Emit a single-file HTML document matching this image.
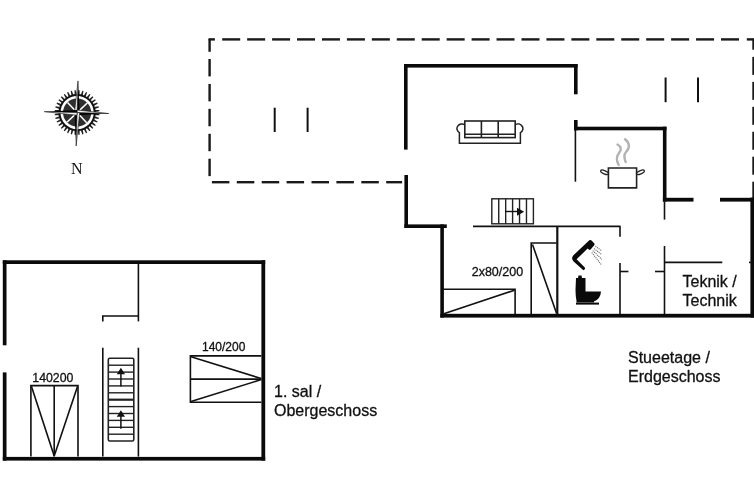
<!DOCTYPE html>
<html><head><meta charset="utf-8"><style>
html,body{margin:0;padding:0;background:#fff;width:754px;height:498px;overflow:hidden}
svg{display:block;will-change:transform;font-family:"Liberation Sans",sans-serif}
</style></head><body>
<svg width="754" height="498" viewBox="0 0 754 498"><rect x="208.6" y="38.2" width="6.3" height="2.4" fill="#1a1a1a"/>
<rect x="208.4" y="38.8" width="2.4" height="13" fill="#1a1a1a"/>
<rect x="222.2" y="38.199999999999996" width="18.0" height="2.4" fill="#1a1a1a"/>
<rect x="247.14" y="38.199999999999996" width="18.0" height="2.4" fill="#1a1a1a"/>
<rect x="272.08" y="38.199999999999996" width="18.0" height="2.4" fill="#1a1a1a"/>
<rect x="297.02" y="38.199999999999996" width="18.0" height="2.4" fill="#1a1a1a"/>
<rect x="321.96" y="38.199999999999996" width="18.0" height="2.4" fill="#1a1a1a"/>
<rect x="346.9" y="38.199999999999996" width="18.0" height="2.4" fill="#1a1a1a"/>
<rect x="371.84" y="38.199999999999996" width="18.0" height="2.4" fill="#1a1a1a"/>
<rect x="396.78" y="38.199999999999996" width="18.0" height="2.4" fill="#1a1a1a"/>
<rect x="421.72" y="38.199999999999996" width="18.0" height="2.4" fill="#1a1a1a"/>
<rect x="446.66" y="38.199999999999996" width="18.0" height="2.4" fill="#1a1a1a"/>
<rect x="471.6" y="38.199999999999996" width="18.0" height="2.4" fill="#1a1a1a"/>
<rect x="496.54" y="38.199999999999996" width="18.0" height="2.4" fill="#1a1a1a"/>
<rect x="521.48" y="38.199999999999996" width="18.0" height="2.4" fill="#1a1a1a"/>
<rect x="546.42" y="38.199999999999996" width="18.0" height="2.4" fill="#1a1a1a"/>
<rect x="571.36" y="38.199999999999996" width="18.0" height="2.4" fill="#1a1a1a"/>
<rect x="596.3" y="38.199999999999996" width="18.0" height="2.4" fill="#1a1a1a"/>
<rect x="621.24" y="38.199999999999996" width="18.0" height="2.4" fill="#1a1a1a"/>
<rect x="646.18" y="38.199999999999996" width="18.0" height="2.4" fill="#1a1a1a"/>
<rect x="671.12" y="38.199999999999996" width="18.0" height="2.4" fill="#1a1a1a"/>
<rect x="696.06" y="38.199999999999996" width="18.0" height="2.4" fill="#1a1a1a"/>
<rect x="721.0" y="38.199999999999996" width="18.0" height="2.4" fill="#1a1a1a"/>
<rect x="746.8" y="38.2" width="8" height="2.4" fill="#1a1a1a"/>
<rect x="752.3" y="38.8" width="2.4" height="10.9" fill="#1a1a1a"/>
<rect x="208.4" y="59" width="2.4" height="17.4" fill="#1a1a1a"/>
<rect x="208.4" y="83.93" width="2.4" height="17.4" fill="#1a1a1a"/>
<rect x="208.4" y="108.86" width="2.4" height="17.4" fill="#1a1a1a"/>
<rect x="208.4" y="133.79" width="2.4" height="17.4" fill="#1a1a1a"/>
<rect x="208.4" y="158.72" width="2.4" height="17.4" fill="#1a1a1a"/>
<rect x="211.9" y="181.0" width="17.5" height="2.4" fill="#1a1a1a"/>
<rect x="236.8" y="181.0" width="17.5" height="2.4" fill="#1a1a1a"/>
<rect x="261.7" y="181.0" width="17.5" height="2.4" fill="#1a1a1a"/>
<rect x="286.6" y="181.0" width="17.5" height="2.4" fill="#1a1a1a"/>
<rect x="311.5" y="181.0" width="17.5" height="2.4" fill="#1a1a1a"/>
<rect x="336.4" y="181.0" width="17.5" height="2.4" fill="#1a1a1a"/>
<rect x="361.3" y="181.0" width="17.5" height="2.4" fill="#1a1a1a"/>
<rect x="386.2" y="181.0" width="15.9" height="2.4" fill="#1a1a1a"/>
<rect x="752.3" y="56.9" width="2.4" height="18.0" fill="#1a1a1a"/>
<rect x="752.3" y="81.85" width="2.4" height="18.0" fill="#1a1a1a"/>
<rect x="752.3" y="106.8" width="2.4" height="18.0" fill="#1a1a1a"/>
<rect x="752.3" y="131.75" width="2.4" height="18.0" fill="#1a1a1a"/>
<rect x="752.3" y="156.7" width="2.4" height="18.0" fill="#1a1a1a"/>
<rect x="752.3" y="181.7" width="2.4" height="20" fill="#1a1a1a"/>
<rect x="404" y="64" width="173.60000000000002" height="3.5999999999999943" fill="#0a0a0a"/>
<rect x="404" y="64" width="3.6000000000000227" height="85.6" fill="#0a0a0a"/>
<rect x="404.4" y="175" width="3.6000000000000227" height="53" fill="#0a0a0a"/>
<rect x="404.4" y="224.4" width="42.400000000000034" height="3.5999999999999943" fill="#0a0a0a"/>
<rect x="440.3" y="224.4" width="3.599999999999966" height="93.20000000000002" fill="#0a0a0a"/>
<rect x="440.3" y="313.8" width="313.7" height="3.8000000000000114" fill="#0a0a0a"/>
<rect x="750.4" y="197.6" width="3.6000000000000227" height="120.00000000000003" fill="#0a0a0a"/>
<rect x="574" y="64" width="3.6000000000000227" height="30.299999999999997" fill="#0a0a0a"/>
<rect x="574" y="120" width="3.6000000000000227" height="10.300000000000011" fill="#0a0a0a"/>
<rect x="574" y="126.7" width="92.5" height="3.6000000000000085" fill="#0a0a0a"/>
<rect x="662.9" y="126.7" width="3.6000000000000227" height="74.89999999999999" fill="#0a0a0a"/>
<rect x="662.9" y="197.8" width="30.600000000000023" height="3.799999999999983" fill="#0a0a0a"/>
<rect x="720" y="197.8" width="34" height="3.799999999999983" fill="#0a0a0a"/>
<line x1="575.4" y1="130" x2="575.4" y2="181.7" stroke="#111" stroke-width="1.6"/>
<line x1="664.5" y1="201.5" x2="664.5" y2="219.6" stroke="#111" stroke-width="1.6"/>
<line x1="664.5" y1="246" x2="664.5" y2="314" stroke="#111" stroke-width="1.6"/>
<line x1="473" y1="226.4" x2="620.6" y2="226.4" stroke="#111" stroke-width="1.6"/>
<line x1="557.3" y1="226.4" x2="557.3" y2="314" stroke="#111" stroke-width="2.2"/>
<line x1="620" y1="226.4" x2="620" y2="236.8" stroke="#111" stroke-width="1.6"/>
<line x1="620" y1="263" x2="620" y2="314" stroke="#111" stroke-width="1.6"/>
<line x1="620" y1="271.5" x2="628.4" y2="271.5" stroke="#111" stroke-width="1.6"/>
<line x1="655" y1="271.5" x2="664.5" y2="271.5" stroke="#111" stroke-width="1.6"/>
<line x1="664.5" y1="262.4" x2="722.3" y2="262.4" stroke="#111" stroke-width="1.6"/>
<line x1="749" y1="262.4" x2="752" y2="262.4" stroke="#111" stroke-width="1.6"/>
<polyline points="531.2,314 531.2,243 556.6,243" fill="none" stroke="#111" stroke-width="1.6"/>
<line x1="532.5" y1="244.5" x2="556.6" y2="313.5" stroke="#111" stroke-width="1.6"/>
<polyline points="442.8,289.2 515.1,289.2 515.1,314" fill="none" stroke="#111" stroke-width="1.6"/>
<line x1="443.8" y1="313.7" x2="514.5" y2="290.2" stroke="#111" stroke-width="1.6"/>
<rect x="491.8" y="198.8" width="41.6" height="25" fill="none" stroke="#222" stroke-width="1.4"/>
<line x1="498.73" y1="198.8" x2="498.73" y2="223.8" stroke="#222" stroke-width="1.4"/>
<line x1="505.67" y1="198.8" x2="505.67" y2="223.8" stroke="#222" stroke-width="1.4"/>
<line x1="512.6" y1="198.8" x2="512.6" y2="223.8" stroke="#222" stroke-width="1.4"/>
<line x1="519.53" y1="198.8" x2="519.53" y2="223.8" stroke="#222" stroke-width="1.4"/>
<line x1="526.47" y1="198.8" x2="526.47" y2="223.8" stroke="#222" stroke-width="1.4"/>
<line x1="505.4" y1="211.5" x2="518.5" y2="211.5" stroke="#111" stroke-width="1.4"/>
<polygon points="517,207.7 524.2,211.7 517,215.7" fill="#111"/>
<line x1="274.7" y1="107.7" x2="274.7" y2="132" stroke="#111" stroke-width="2"/>
<line x1="307.6" y1="107.7" x2="307.6" y2="132" stroke="#111" stroke-width="2"/>
<line x1="665.6" y1="77.5" x2="665.6" y2="102.2" stroke="#111" stroke-width="2"/>
<line x1="698" y1="77.5" x2="698" y2="102.2" stroke="#111" stroke-width="2"/>
<rect x="2.8" y="260.3" width="262.4" height="3.6999999999999886" fill="#0a0a0a"/>
<rect x="2.8" y="260.3" width="3.7" height="85.0" fill="#0a0a0a"/>
<rect x="2.8" y="372.4" width="3.7" height="88.20000000000005" fill="#0a0a0a"/>
<rect x="2.8" y="456.9" width="262.4" height="3.7000000000000455" fill="#0a0a0a"/>
<rect x="261.4" y="260.3" width="3.8000000000000114" height="200.3" fill="#0a0a0a"/>
<line x1="138.4" y1="264" x2="138.4" y2="321.4" stroke="#111" stroke-width="1.6"/>
<line x1="138.4" y1="347.7" x2="138.4" y2="456.6" stroke="#111" stroke-width="1.6"/>
<polyline points="102.8,321.4 102.8,316 138.4,316" fill="none" stroke="#111" stroke-width="1.6"/>
<line x1="102.8" y1="347.8" x2="102.8" y2="456.6" stroke="#111" stroke-width="1.6"/>
<rect x="108.3" y="358.2" width="25.5" height="82.8" rx="1.5" fill="none" stroke="#222" stroke-width="1.6"/>
<line x1="108.3" y1="365.2" x2="133.8" y2="365.2" stroke="#222" stroke-width="1.4"/>
<line x1="108.3" y1="372.1" x2="133.8" y2="372.1" stroke="#222" stroke-width="1.4"/>
<line x1="108.3" y1="379.0" x2="133.8" y2="379.0" stroke="#222" stroke-width="1.4"/>
<line x1="108.3" y1="385.9" x2="133.8" y2="385.9" stroke="#222" stroke-width="1.4"/>
<line x1="108.3" y1="392.8" x2="133.8" y2="392.8" stroke="#222" stroke-width="1.4"/>
<line x1="108.3" y1="399.7" x2="133.8" y2="399.7" stroke="#222" stroke-width="2.2"/>
<line x1="108.3" y1="406.6" x2="133.8" y2="406.6" stroke="#222" stroke-width="1.4"/>
<line x1="108.3" y1="413.5" x2="133.8" y2="413.5" stroke="#222" stroke-width="1.4"/>
<line x1="108.3" y1="420.4" x2="133.8" y2="420.4" stroke="#222" stroke-width="1.4"/>
<line x1="108.3" y1="427.3" x2="133.8" y2="427.3" stroke="#222" stroke-width="1.4"/>
<line x1="108.3" y1="434.2" x2="133.8" y2="434.2" stroke="#222" stroke-width="1.4"/>
<line x1="120.9" y1="371.7" x2="120.9" y2="386.5" stroke="#111" stroke-width="1.5"/>
<polygon points="120.9,367.7 125,374.3 116.8,374.3" fill="#111"/>
<line x1="120.9" y1="414.2" x2="120.9" y2="428.7" stroke="#111" stroke-width="1.5"/>
<polygon points="120.9,410.2 125,416.8 116.8,416.8" fill="#111"/>
<polyline points="30.9,456.6 30.9,385.6 78,385.6 78,456.6" fill="none" stroke="#111" stroke-width="1.6"/>
<line x1="54.2" y1="385.6" x2="54.2" y2="456.6" stroke="#111" stroke-width="1.6"/>
<line x1="31.5" y1="386.5" x2="54.2" y2="456" stroke="#111" stroke-width="1.6"/>
<line x1="77.5" y1="386.5" x2="54.2" y2="456" stroke="#111" stroke-width="1.6"/>
<polyline points="261.4,355.9 190.4,355.9 190.4,402.3 261.4,402.3" fill="none" stroke="#111" stroke-width="1.6"/>
<line x1="190.4" y1="379.1" x2="261.4" y2="379.1" stroke="#111" stroke-width="1.6"/>
<line x1="191" y1="356.8" x2="261.3" y2="378.6" stroke="#111" stroke-width="1.6"/>
<line x1="191" y1="401.4" x2="261.3" y2="379.6" stroke="#111" stroke-width="1.6"/>
<path d="M608.4,168 L636.6,168 L636.6,187.9 L608.4,187.9 Z" fill="none" stroke="#222" stroke-width="1.6"/>
<ellipse cx="604.6" cy="172.3" rx="4.2" ry="1.6" transform="rotate(22 604.6 172.3)" fill="none" stroke="#222" stroke-width="1.3"/>
<ellipse cx="640.4" cy="172.3" rx="4.2" ry="1.6" transform="rotate(-22 640.4 172.3)" fill="none" stroke="#222" stroke-width="1.3"/>
<path d="M618.7,165 C616,160 616.5,156 619,153 C622,149.5 621,146.5 617.5,144.5" fill="none" stroke="#b3b3b3" stroke-width="2.4" stroke-linecap="round"/>
<path d="M625.7,162 C624,158 623.5,155 626,152 C630,148 630,143 625,139.2" fill="none" stroke="#b3b3b3" stroke-width="2.4" stroke-linecap="round"/>
<rect x="464.8" y="121" width="50.4" height="16.6" fill="none" stroke="#222" stroke-width="1.6"/>
<line x1="481.4" y1="121" x2="481.4" y2="137.6" stroke="#222" stroke-width="1.6"/>
<line x1="498.2" y1="121" x2="498.2" y2="137.6" stroke="#222" stroke-width="1.6"/>
<line x1="464.8" y1="134.2" x2="515.2" y2="134.2" stroke="#222" stroke-width="1.4"/>
<path d="M464.8,124.6 A4.6,4.2 0 1 0 459.4,132.6 L459.4,143.3 L520.4,143.3 L520.4,132.6 A4.6,4.2 0 1 0 515.2,124.6" fill="none" stroke="#222" stroke-width="1.5"/>
<path d="M589.3,240.3 Q590.5,239.6 591.6,240.6 L594.4,243.6 Q594.8,244.4 594.2,245.2 L590.6,249.6 Q589.8,250.2 588.9,249.6 L587.6,248.6 L576.6,259.3 L584.8,267.6 Q585.6,269.6 583.4,270.3 L573.6,261.6 Q570.8,258.6 573.2,255.6 Z" fill="#0a0a0a"/>
<line x1="595.4" y1="246.2" x2="601.8" y2="250.8" stroke="#666" stroke-width="1.1" stroke-dasharray="1.1,0.9"/>
<line x1="594" y1="248.6" x2="601.8" y2="254.6" stroke="#666" stroke-width="1.1" stroke-dasharray="1.1,0.9"/>
<line x1="592.8" y1="250.6" x2="601.8" y2="259.4" stroke="#666" stroke-width="1.1" stroke-dasharray="1.1,0.9"/>
<line x1="591.8" y1="252.6" x2="601.8" y2="265.2" stroke="#666" stroke-width="1.1" stroke-dasharray="1.1,0.9"/>
<path d="M576,278 L578,278 L578.5,275.5 L581.5,275.5 L582,278 L585.5,278 L585.5,291.5 L601,291.5 Q600.5,299 594,301.5 L594,302.5 L576.5,302.5 L576.5,301 Q575.5,296 575.5,290 Z" fill="#0a0a0a"/>
<rect x="576" y="302.6" width="23" height="2" fill="#0a0a0a"/>
<polygon points="95.12,113.17 99.47,113.95 99.36,115.15 94.94,115.16" fill="#222"/>
<polygon points="94.75,116.29 98.89,117.82 98.58,118.98 94.23,118.22" fill="#222"/>
<polygon points="93.84,119.30 97.65,121.52 97.15,122.61 92.99,121.11" fill="#222"/>
<polygon points="92.42,122.11 95.79,124.96 95.10,125.94 91.27,123.74" fill="#222"/>
<polygon points="90.54,124.62 93.36,128.01 92.51,128.86 89.12,126.04" fill="#222"/>
<polygon points="88.24,126.77 90.44,130.60 89.46,131.29 86.61,127.92" fill="#222"/>
<polygon points="85.61,128.49 87.11,132.65 86.02,133.15 83.80,129.34" fill="#222"/>
<polygon points="82.72,129.73 83.48,134.08 82.32,134.39 80.79,130.25" fill="#222"/>
<polygon points="79.66,130.44 79.65,134.86 78.45,134.97 77.67,130.62" fill="#222"/>
<polygon points="76.53,130.62 75.75,134.97 74.55,134.86 74.54,130.44" fill="#222"/>
<polygon points="73.41,130.25 71.88,134.39 70.72,134.08 71.48,129.73" fill="#222"/>
<polygon points="70.40,129.34 68.18,133.15 67.09,132.65 68.59,128.49" fill="#222"/>
<polygon points="67.59,127.92 64.74,131.29 63.76,130.60 65.96,126.77" fill="#222"/>
<polygon points="65.08,126.04 61.69,128.86 60.84,128.01 63.66,124.62" fill="#222"/>
<polygon points="62.93,123.74 59.10,125.94 58.41,124.96 61.78,122.11" fill="#222"/>
<polygon points="61.21,121.11 57.05,122.61 56.55,121.52 60.36,119.30" fill="#222"/>
<polygon points="59.97,118.22 55.62,118.98 55.31,117.82 59.45,116.29" fill="#222"/>
<polygon points="59.26,115.16 54.84,115.15 54.73,113.95 59.08,113.17" fill="#222"/>
<polygon points="59.08,112.03 54.73,111.25 54.84,110.05 59.26,110.04" fill="#222"/>
<polygon points="59.45,108.91 55.31,107.38 55.62,106.22 59.97,106.98" fill="#222"/>
<polygon points="60.36,105.90 56.55,103.68 57.05,102.59 61.21,104.09" fill="#222"/>
<polygon points="61.78,103.09 58.41,100.24 59.10,99.26 62.93,101.46" fill="#222"/>
<polygon points="63.66,100.58 60.84,97.19 61.69,96.34 65.08,99.16" fill="#222"/>
<polygon points="65.96,98.43 63.76,94.60 64.74,93.91 67.59,97.28" fill="#222"/>
<polygon points="68.59,96.71 67.09,92.55 68.18,92.05 70.40,95.86" fill="#222"/>
<polygon points="71.48,95.47 70.72,91.12 71.88,90.81 73.41,94.95" fill="#222"/>
<polygon points="74.54,94.76 74.55,90.34 75.75,90.23 76.53,94.58" fill="#222"/>
<polygon points="77.67,94.58 78.45,90.23 79.65,90.34 79.66,94.76" fill="#222"/>
<polygon points="80.79,94.95 82.32,90.81 83.48,91.12 82.72,95.47" fill="#222"/>
<polygon points="83.80,95.86 86.02,92.05 87.11,92.55 85.61,96.71" fill="#222"/>
<polygon points="86.61,97.28 89.46,93.91 90.44,94.60 88.24,98.43" fill="#222"/>
<polygon points="89.12,99.16 92.51,96.34 93.36,97.19 90.54,100.58" fill="#222"/>
<polygon points="91.27,101.46 95.10,99.26 95.79,100.24 92.42,103.09" fill="#222"/>
<polygon points="92.99,104.09 97.15,102.59 97.65,103.68 93.84,105.90" fill="#222"/>
<polygon points="94.23,106.98 98.58,106.22 98.89,107.38 94.75,108.91" fill="#222"/>
<polygon points="94.94,110.04 99.36,110.05 99.47,111.25 95.12,112.03" fill="#222"/>
<circle cx="77.1" cy="112.6" r="18.6" fill="#111"/>
<circle cx="77.1" cy="112.6" r="16.6" fill="#fff"/>
<circle cx="77.1" cy="112.6" r="14.1" fill="#2e2e2e"/>
<line x1="77.1" y1="112.6" x2="86.70" y2="122.79" stroke="#fff" stroke-width="1.5"/>
<line x1="77.1" y1="112.6" x2="66.91" y2="122.20" stroke="#fff" stroke-width="1.5"/>
<line x1="77.1" y1="112.6" x2="67.50" y2="102.41" stroke="#fff" stroke-width="1.5"/>
<line x1="77.1" y1="112.6" x2="87.29" y2="103.00" stroke="#fff" stroke-width="1.5"/>
<polygon points="77.1,112.6 78.04,80.91 79.70,112.68" fill="#000"/>
<polygon points="77.1,112.6 78.04,80.91 74.50,112.52" fill="#f4f4f4" stroke="#111" stroke-width="0.6"/>
<polygon points="77.1,112.6 108.69,113.54 77.02,115.20" fill="#000"/>
<polygon points="77.1,112.6 108.69,113.54 77.18,110.00" fill="#f4f4f4" stroke="#111" stroke-width="0.6"/>
<polygon points="77.1,112.6 76.11,145.99 74.50,112.52" fill="#000"/>
<polygon points="77.1,112.6 76.11,145.99 79.70,112.68" fill="#f4f4f4" stroke="#111" stroke-width="0.6"/>
<polygon points="77.1,112.6 44.31,111.63 77.18,110.00" fill="#000"/>
<polygon points="77.1,112.6 44.31,111.63 77.02,115.20" fill="#f4f4f4" stroke="#111" stroke-width="0.6"/>
<text x="274.0" y="396.7" font-family="Liberation Sans" font-size="16" fill="#111" stroke="#111" stroke-width="0.3">1. sal /</text>
<text x="274.0" y="415.8" font-family="Liberation Sans" font-size="16" fill="#111" stroke="#111" stroke-width="0.3">Obergeschoss</text>
<text x="628.0" y="362.8" font-family="Liberation Sans" font-size="16" fill="#111" stroke="#111" stroke-width="0.3">Stueetage /</text>
<text x="628.0" y="381.7" font-family="Liberation Sans" font-size="16" fill="#111" stroke="#111" stroke-width="0.3">Erdgeschoss</text>
<text x="682.5" y="286.5" font-family="Liberation Sans" font-size="16" fill="#111" stroke="#111" stroke-width="0.3">Teknik /</text>
<text x="682.5" y="305.5" font-family="Liberation Sans" font-size="16" fill="#111" stroke="#111" stroke-width="0.3">Technik</text>
<text x="471.7" y="276" font-family="Liberation Sans" font-size="12.5" fill="#111" stroke="#111" stroke-width="0.3">2x80/200</text>
<text x="32.3" y="382.3" font-family="Liberation Sans" font-size="12.3" fill="#111" stroke="#111" stroke-width="0.3">140200</text>
<text x="202.0" y="350.5" font-family="Liberation Sans" font-size="12" fill="#111" stroke="#111" stroke-width="0.3">140/200</text>
<text x="71" y="173.5" font-family="Liberation Serif" font-size="16" fill="#111">N</text></svg>
</body></html>
